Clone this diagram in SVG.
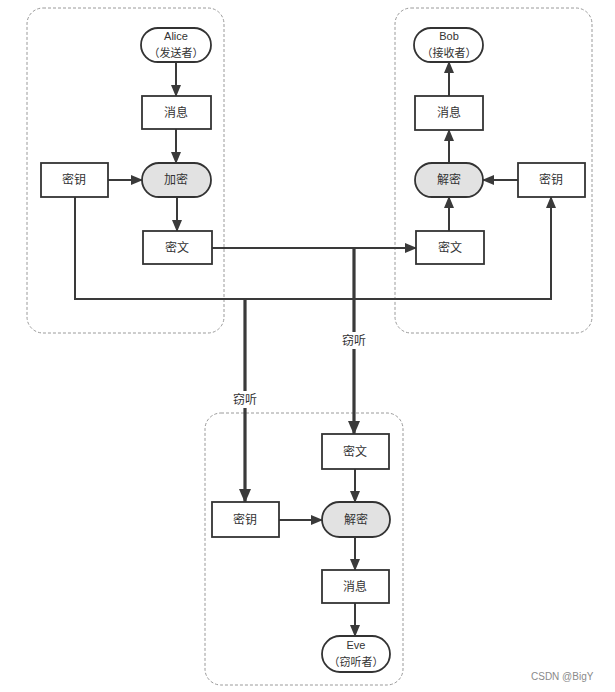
<svg xmlns="http://www.w3.org/2000/svg" width="615" height="692" viewBox="0 0 615 692">
  <defs>
    <style>
      .zone { fill: none; stroke: #9a9a9a; stroke-width: 1; stroke-dasharray: 3 2; }
      .box { fill: #ffffff; stroke: #333333; stroke-width: 1.8; }
      .op { fill: #e2e2e2; stroke: #333333; stroke-width: 1.8; }
      .lbl { font-family: "Noto Sans CJK SC", "Liberation Sans", sans-serif; font-size: 12px; fill: #333333; text-anchor: middle; }
      .sm { font-size: 11px; }
      .lat { font-family: "Liberation Sans", "Noto Sans CJK SC", sans-serif; font-size: 11px; fill: #333333; text-anchor: middle; }
      .wire { fill: none; stroke: #3a3a3a; stroke-width: 2; }
      .tap { fill: none; stroke: #3a3a3a; stroke-width: 3.2; }
      .tag { font-family: "Noto Sans CJK SC", sans-serif; font-size: 12px; fill: #333333; text-anchor: middle; }
      .mark { font-family: "Liberation Sans", sans-serif; font-size: 10px; fill: #8a8a8a; }
    </style>
    <marker id="arr" markerUnits="userSpaceOnUse" markerWidth="12" markerHeight="10" refX="11" refY="5" orient="auto">
      <path d="M0,0 L12,5 L0,10 Z" fill="#3a3a3a"/>
    </marker>
    <marker id="arrBig" markerUnits="userSpaceOnUse" markerWidth="14" markerHeight="12" refX="13" refY="6" orient="auto">
      <path d="M0,0 L14,6 L0,12 Z" fill="#3a3a3a"/>
    </marker>
  </defs>

  <rect width="615" height="692" fill="#ffffff"/>

  <!-- party zones -->
  <rect class="zone" x="27" y="8" width="197" height="325" rx="16"/>
  <rect class="zone" x="395" y="8" width="197" height="325" rx="16"/>
  <rect class="zone" x="205" y="413" width="198" height="272" rx="16"/>

  <!-- connectors -->
  <g id="connectors">
    <!-- Alice side -->
    <line class="wire" x1="176" y1="62" x2="176" y2="96" marker-end="url(#arr)"/>
    <line class="wire" x1="176" y1="129" x2="176" y2="163" marker-end="url(#arr)"/>
    <line class="wire" x1="108" y1="180" x2="142" y2="180" marker-end="url(#arr)"/>
    <line class="wire" x1="177" y1="197" x2="177" y2="231" marker-end="url(#arr)"/>
    <!-- ciphertext channel -->
    <line class="wire" x1="212" y1="248" x2="416" y2="248" marker-end="url(#arr)"/>
    <!-- key channel -->
    <polyline class="wire" points="75,197 75,299 551,299 551,197" marker-end="url(#arr)"/>
    <!-- Bob side -->
    <line class="wire" x1="449" y1="231" x2="449" y2="197" marker-end="url(#arr)"/>
    <line class="wire" x1="449" y1="163" x2="449" y2="130" marker-end="url(#arr)"/>
    <line class="wire" x1="449" y1="96" x2="449" y2="62" marker-end="url(#arr)"/>
    <line class="wire" x1="518" y1="180" x2="483" y2="180" marker-end="url(#arr)"/>
    <!-- eavesdropping taps -->
    <line class="tap" x1="354" y1="248" x2="354" y2="434" marker-end="url(#arrBig)"/>
    <line class="tap" x1="245" y1="299" x2="245" y2="502" marker-end="url(#arrBig)"/>
    <rect x="339" y="332" width="30" height="17" fill="#ffffff"/>
    <text class="tag" x="354" y="345">窃听</text>
    <rect x="230" y="391" width="30" height="17" fill="#ffffff"/>
    <text class="tag" x="245" y="404">窃听</text>
    <!-- Eve side -->
    <line class="wire" x1="355" y1="469" x2="355" y2="502" marker-end="url(#arr)"/>
    <line class="wire" x1="279" y1="520" x2="322" y2="520" marker-end="url(#arr)"/>
    <line class="wire" x1="355" y1="537" x2="355" y2="570" marker-end="url(#arr)"/>
    <line class="wire" x1="355" y1="603" x2="355" y2="636" marker-end="url(#arr)"/>
  </g>

  <!-- Alice nodes -->
  <g id="alice">
    <rect class="box" x="141" y="28" width="70" height="34" rx="17"/>
    <text class="lat" x="176" y="40">Alice</text>
    <text class="lbl sm" x="176" y="57">（发送者）</text>
  </g>
  <g id="alice-msg">
    <rect class="box" x="142" y="96" width="69" height="33"/>
    <text class="lbl" x="176" y="117">消息</text>
  </g>
  <g id="alice-encrypt">
    <rect class="op" x="142" y="163" width="69" height="34" rx="17"/>
    <text class="lbl" x="176" y="184">加密</text>
  </g>
  <g id="alice-key">
    <rect class="box" x="41" y="163" width="67" height="34"/>
    <text class="lbl" x="74" y="184">密钥</text>
  </g>
  <g id="alice-cipher">
    <rect class="box" x="143" y="231" width="69" height="33"/>
    <text class="lbl" x="177" y="252">密文</text>
  </g>

  <!-- Bob nodes -->
  <g id="bob">
    <rect class="box" x="414" y="28" width="69" height="34" rx="17"/>
    <text class="lat" x="449" y="40">Bob</text>
    <text class="lbl sm" x="449" y="57">（接收者）</text>
  </g>
  <g id="bob-msg">
    <rect class="box" x="415" y="96" width="68" height="34"/>
    <text class="lbl" x="449" y="117">消息</text>
  </g>
  <g id="bob-decrypt">
    <rect class="op" x="415" y="163" width="68" height="34" rx="17"/>
    <text class="lbl" x="449" y="184">解密</text>
  </g>
  <g id="bob-key">
    <rect class="box" x="518" y="163" width="67" height="34"/>
    <text class="lbl" x="551" y="184">密钥</text>
  </g>
  <g id="bob-cipher">
    <rect class="box" x="416" y="231" width="68" height="33"/>
    <text class="lbl" x="450" y="252">密文</text>
  </g>

  <!-- Eve nodes -->
  <g id="eve-cipher">
    <rect class="box" x="322" y="434" width="67" height="35"/>
    <text class="lbl" x="355" y="456">密文</text>
  </g>
  <g id="eve-key">
    <rect class="box" x="212" y="502" width="67" height="35"/>
    <text class="lbl" x="245" y="524">密钥</text>
  </g>
  <g id="eve-decrypt">
    <rect class="op" x="322" y="502" width="68" height="35" rx="17.5"/>
    <text class="lbl" x="356" y="524">解密</text>
  </g>
  <g id="eve-msg">
    <rect class="box" x="322" y="570" width="67" height="33"/>
    <text class="lbl" x="355" y="591">消息</text>
  </g>
  <g id="eve">
    <rect class="box" x="322" y="636" width="68" height="36" rx="18"/>
    <text class="lat" x="356" y="649">Eve</text>
    <text class="lbl sm" x="356" y="666">（窃听者）</text>
  </g>

  <text class="mark" x="531" y="680">CSDN @BigY</text>
</svg>
